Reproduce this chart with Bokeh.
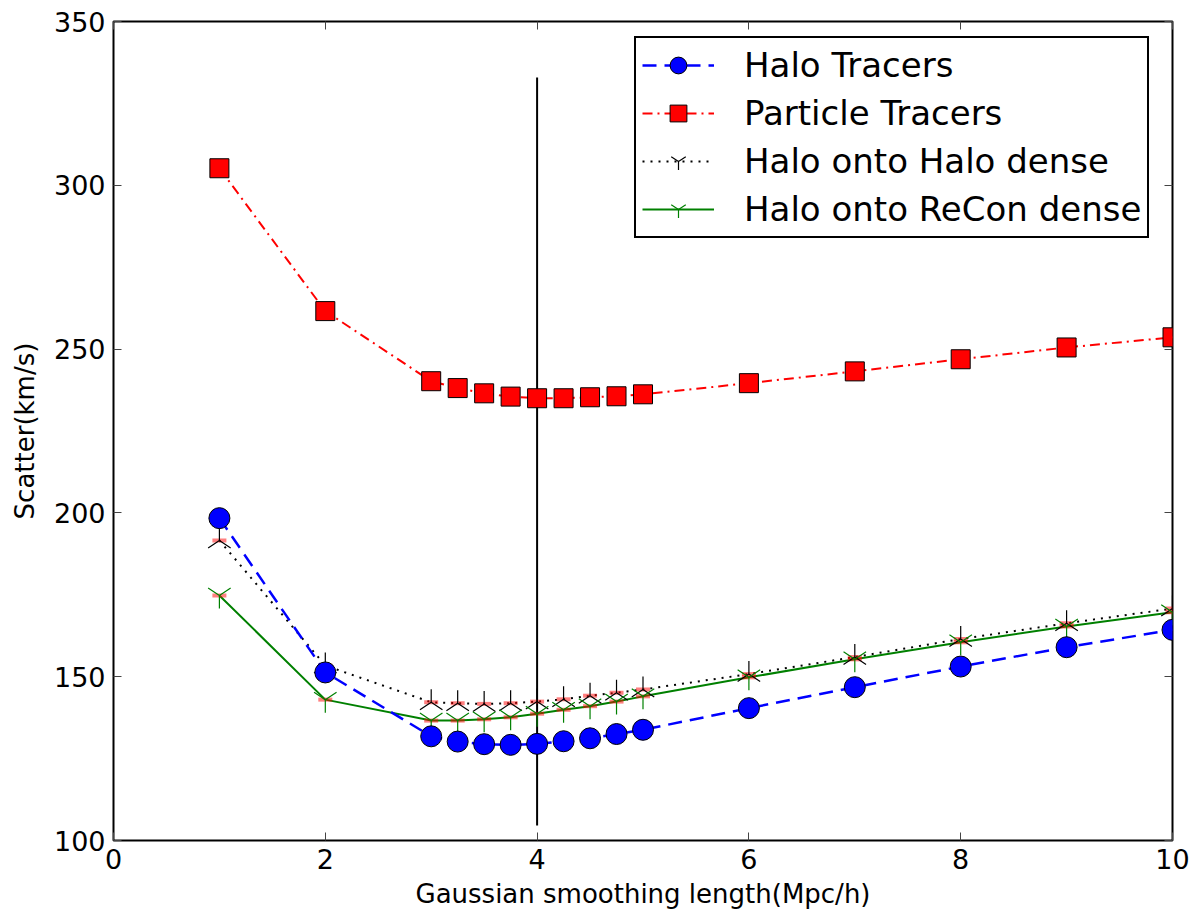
import numpy as np
from bokeh.plotting import figure
from bokeh.models import Range1d, LinearAxis, FixedTicker, Legend, LegendItem, ColumnDataSource
from bokeh.embed import file_html
from bokeh.resources import INLINE

# ---- data ----
smoothing = [1, 2, 3, 3.25, 3.5, 3.75, 4, 4.25, 4.5, 4.75, 5, 6, 7, 8, 9, 10]
halo_tracers = [198.4, 151.3, 131.8, 130.2, 129.4, 129.2, 129.5, 130.3, 131.2, 132.5, 133.8, 140.4, 146.8, 153.1, 159.0, 164.3]
particle_tracers = [305.2, 261.6, 240.2, 238.1, 236.5, 235.5, 235.0, 235.0, 235.3, 235.6, 236.2, 239.6, 243.2, 246.9, 250.5, 253.6]
halo_onto_halo = [191.6, 153.4, 142.2, 141.9, 141.7, 141.9, 142.4, 143.1, 144.2, 145.1, 146.1, 150.8, 156.0, 161.5, 166.3, 170.8]
halo_onto_recon = [174.8, 143.0, 136.6, 136.6, 137.0, 137.6, 138.7, 139.9, 141.0, 142.4, 144.0, 149.8, 155.3, 160.5, 165.3, 169.7]

x_ticks = [0, 2, 4, 6, 8, 10]
y_ticks = [100, 150, 200, 250, 300, 350]
x_limits = [0, 10]
y_limits = [100, 350]

marker_x = [4.0]
marker_y_bottom = [104.6]
marker_y_top = [332.9]

labels = ["Halo Tracers", "Particle Tracers", "Halo onto Halo dense", "Halo onto ReCon dense"]

FONT = "DejaVu Sans"

p = figure(width=1195, height=913, output_backend="svg", toolbar_location=None,
           x_range=Range1d(*x_limits), y_range=Range1d(*y_limits),
           min_border_left=113, min_border_right=23, min_border_top=21, min_border_bottom=73)

p.background_fill_color = "white"
p.border_fill_color = "white"
p.outline_line_color = "black"
p.outline_line_width = 2
p.outline_line_alpha = 1
p.xgrid.visible = False
p.ygrid.visible = False

src = ColumnDataSource(dict(x=smoothing, halo=halo_tracers, part=particle_tracers,
                            hh=halo_onto_halo, hr=halo_onto_recon))

# vertical marker line
p.segment(x0=marker_x, y0=marker_y_bottom, x1=marker_x, y1=marker_y_top,
          line_color="black", line_width=2)

# Particle tracers
l_part = p.line("x", "part", source=src, line_color="red", line_width=2, line_dash="10 5 2 5")
s_part = p.scatter("x", "part", source=src, marker="square", size=19,
                   fill_color="red", line_color="black", line_width=1)

# Halo onto Halo dense (black dotted, tri_up)
l_hh = p.line("x", "hh", source=src, line_color="black", line_width=2, line_dash="2 6")
# Halo onto ReCon dense (green solid, tri_down)
l_hr = p.line("x", "hr", source=src, line_color="green", line_width=2)

# red translucent caps
p.scatter("x", "hh", source=src, marker="dash", size=14, line_color="red", line_width=4, line_alpha=0.5)
p.scatter("x", "hr", source=src, marker="dash", size=14, line_color="red", line_width=4, line_alpha=0.5)

s_hh = p.scatter("x", "hh", source=src, marker="y", size=26, angle=np.pi,
                 line_color="black", line_width=1.2, fill_color=None)
s_hr = p.scatter("x", "hr", source=src, marker="y", size=26,
                 line_color="green", line_width=1.2, fill_color=None)

# Halo tracers
l_halo = p.line("x", "halo", source=src, line_color="blue", line_width=2.5, line_dash="14 8")
s_halo = p.scatter("x", "halo", source=src, marker="circle", size=21,
                   fill_color="blue", line_color="black", line_width=1)

# axes
def style_axis(ax, ticks, show_labels=True):
    ax.ticker = FixedTicker(ticks=ticks)
    ax.axis_line_color = None
    ax.major_tick_in = 8
    ax.major_tick_out = 0
    ax.major_tick_line_color = "#444444"
    ax.major_tick_line_width = 1
    ax.minor_tick_line_color = None
    ax.major_label_text_font = FONT
    ax.major_label_text_color = "black"
    ax.major_label_text_font_size = "27px"
    if not show_labels:
        ax.major_label_overrides = {t: "" for t in ticks}
        ax.major_label_standoff = 0
    ax.axis_label_text_font = FONT
    ax.axis_label_text_font_size = "26px"
    ax.axis_label_text_font_style = "normal"
    ax.axis_label_text_color = "black"

style_axis(p.xaxis[0], x_ticks)
style_axis(p.yaxis[0], y_ticks)
p.xaxis[0].axis_label = "Gaussian smoothing length(Mpc/h)"
p.yaxis[0].axis_label = "Scatter(km/s)"
p.xaxis[0].major_label_standoff = 8
p.yaxis[0].major_label_standoff = 8
p.xaxis[0].axis_label_standoff = 7
p.yaxis[0].axis_label_standoff = 11

top = LinearAxis()
style_axis(top, x_ticks, show_labels=False)
p.add_layout(top, "above")
right = LinearAxis()
style_axis(right, y_ticks, show_labels=False)
p.add_layout(right, "right")

legend = Legend(items=[
    LegendItem(label=labels[0], renderers=[l_halo, s_halo]),
    LegendItem(label=labels[1], renderers=[l_part, s_part]),
    LegendItem(label=labels[2], renderers=[l_hh, s_hh]),
    LegendItem(label=labels[3], renderers=[l_hr, s_hr]),
], location=(521, 602))
legend.label_text_font = FONT
legend.label_text_font_size = "34px"
legend.label_text_color = "black"
legend.label_height = 42
legend.glyph_height = 42
legend.glyph_width = 72
legend.spacing = 6
legend.padding = 6
legend.margin = 0
legend.label_standoff = 30
legend.border_line_color = "black"
legend.border_line_alpha = 1
legend.border_line_width = 2
legend.background_fill_alpha = 1
legend.border_radius = 0
p.add_layout(legend, "center")

open("out.html", "w").write(file_html(p, INLINE))
